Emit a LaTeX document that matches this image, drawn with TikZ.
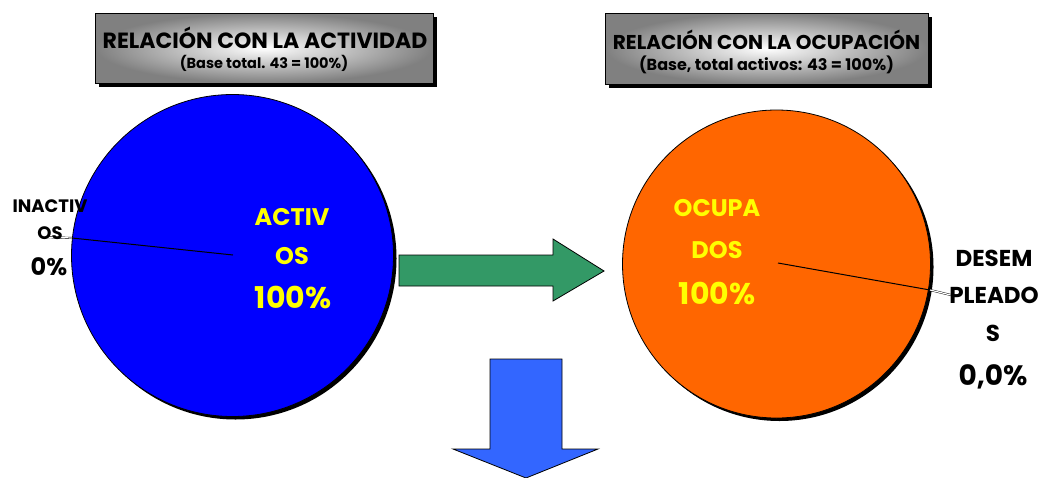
\documentclass[tikz,border=0pt]{standalone}
\usepackage{fontspec}
\setmainfont{Poppins}
\usetikzlibrary{shadows}
\definecolor{pieblue}{HTML}{0000FF}
\definecolor{pieorange}{HTML}{FF6600}
\definecolor{arrgreen}{HTML}{339966}
\definecolor{arrblue}{HTML}{3366FF}
\definecolor{txtyellow}{HTML}{FFFF00}
\tikzset{
  titlebox/.style={draw=black, line width=0.8pt, shading=radial, inner color=white, outer color=black!50,
     general shadow={fill=black, shadow xshift=4pt, shadow yshift=-4pt}},
  titletxt/.style={font=\bfseries\fontsize{22}{24}\selectfont, text=black, inner sep=0pt},
  subtxt/.style={font=\bfseries\fontsize{14.5}{16}\selectfont, text=black, inner sep=0pt},
  pie/.style={circle, draw=black, line width=0.8pt, inner sep=0pt,
     general shadow={fill=black, shadow xshift=3pt, shadow yshift=-3pt}},
  intxt/.style={font=\bfseries\fontsize{24}{26}\selectfont, text=txtyellow, inner sep=0pt},
  inpct/.style={font=\bfseries\fontsize{30}{32}\selectfont, text=txtyellow, inner sep=0pt},
  outtxt/.style={font=\bfseries\fontsize{23}{25}\selectfont, text=black, inner sep=0pt},
  outsm/.style={font=\bfseries\fontsize{18}{20}\selectfont, text=black, inner sep=0pt},
  outpct/.style={font=\bfseries\fontsize{28}{30}\selectfont, text=black, inner sep=0pt},
  outpctsm/.style={font=\bfseries\fontsize{24}{26}\selectfont, text=black, inner sep=0pt},
  radius line/.style={draw=black, line width=1pt},
  leader/.style={draw=black, double=white, double distance=1.2pt, line width=0.4pt},
  bigarrow/.style={draw=black, line width=0.8pt}
}
\begin{document}
\begin{tikzpicture}[x=1pt,y=-1pt]
\useasboundingbox[fill=white] (0,0) rectangle (1040,477);

% title boxes
\node[titlebox, minimum width=338pt, minimum height=70pt] (boxA) at (264,48) {};
\node[titletxt] (titA) at (265,38) {RELACIÓN CON LA ACTIVIDAD};
\node[subtxt] (subA) at (264,63) {(Base total. 43 = 100\%)};

\node[titlebox, minimum width=323pt, minimum height=71pt] (boxB) at (766.5,48.5) {};
\node[titletxt, font=\bfseries\fontsize{20}{22}\selectfont] (titB) at (766.5,40) {RELACIÓN CON LA OCUPACIÓN};
\node[subtxt, font=\bfseries\fontsize{16}{18}\selectfont] (subB) at (766.5,65) {(Base, total activos: 43 = 100\%)};

% pies
\node[pie, fill=pieblue, minimum size=322pt] (pieA) at (232.5,255.5) {};
\node[pie, fill=pieorange, minimum size=308pt] (pieB) at (776.5,264) {};

% blue pie radius & leader
\coordinate (cA) at (233,255);
\coordinate (eA) at (72,238);
\coordinate (lA) at (45,237);
\draw[radius line] (cA) -- (eA);
\draw[leader] (eA) -- (lA);

% orange pie radius & leader
\coordinate (cB) at (778,263);
\coordinate (eB) at (930,290);
\coordinate (lB) at (955,296);
\draw[radius line] (cB) -- (eB);
\draw[leader] (eB) -- (lB);

% labels inside
\node[intxt] (a1) at (292,217) {ACTIV};
\node[intxt] (a2) at (292,256) {OS};
\node[inpct] (a3) at (293,297) {100\%};

\node[intxt] (o1) at (717,208) {OCUPA};
\node[intxt] (o2) at (717,250) {DOS};
\node[inpct] (o3) at (717,293) {100\%};

% labels outside
\node[outsm] (i1) at (50,206) {INACTIV};
\node[outsm] (i2) at (50,233) {OS};
\node[outpctsm] (i3) at (49,267) {0\%};

\node[outtxt] (d1) at (994,258) {DESEM};
\node[outtxt] (d2) at (994,295) {PLEADO};
\node[outtxt] (d3) at (993,333) {S};
\node[outpct] (d4) at (993,377) {0,0\%};

% green arrow
\draw[bigarrow, fill=arrgreen] (399,255) -- (553,255) -- (553,239) -- (604,271)
  -- (553,301) -- (553,286) -- (399,286) -- cycle;

% blue arrow
\begin{scope}
\clip (0,0) rectangle (1040,477);
\draw[bigarrow, fill=arrblue] (490,359) -- (562,359) -- (562,449) -- (598,449)
  -- (526,478) -- (453,449) -- (490,449) -- cycle;
\end{scope}
\end{tikzpicture}
\end{document}
